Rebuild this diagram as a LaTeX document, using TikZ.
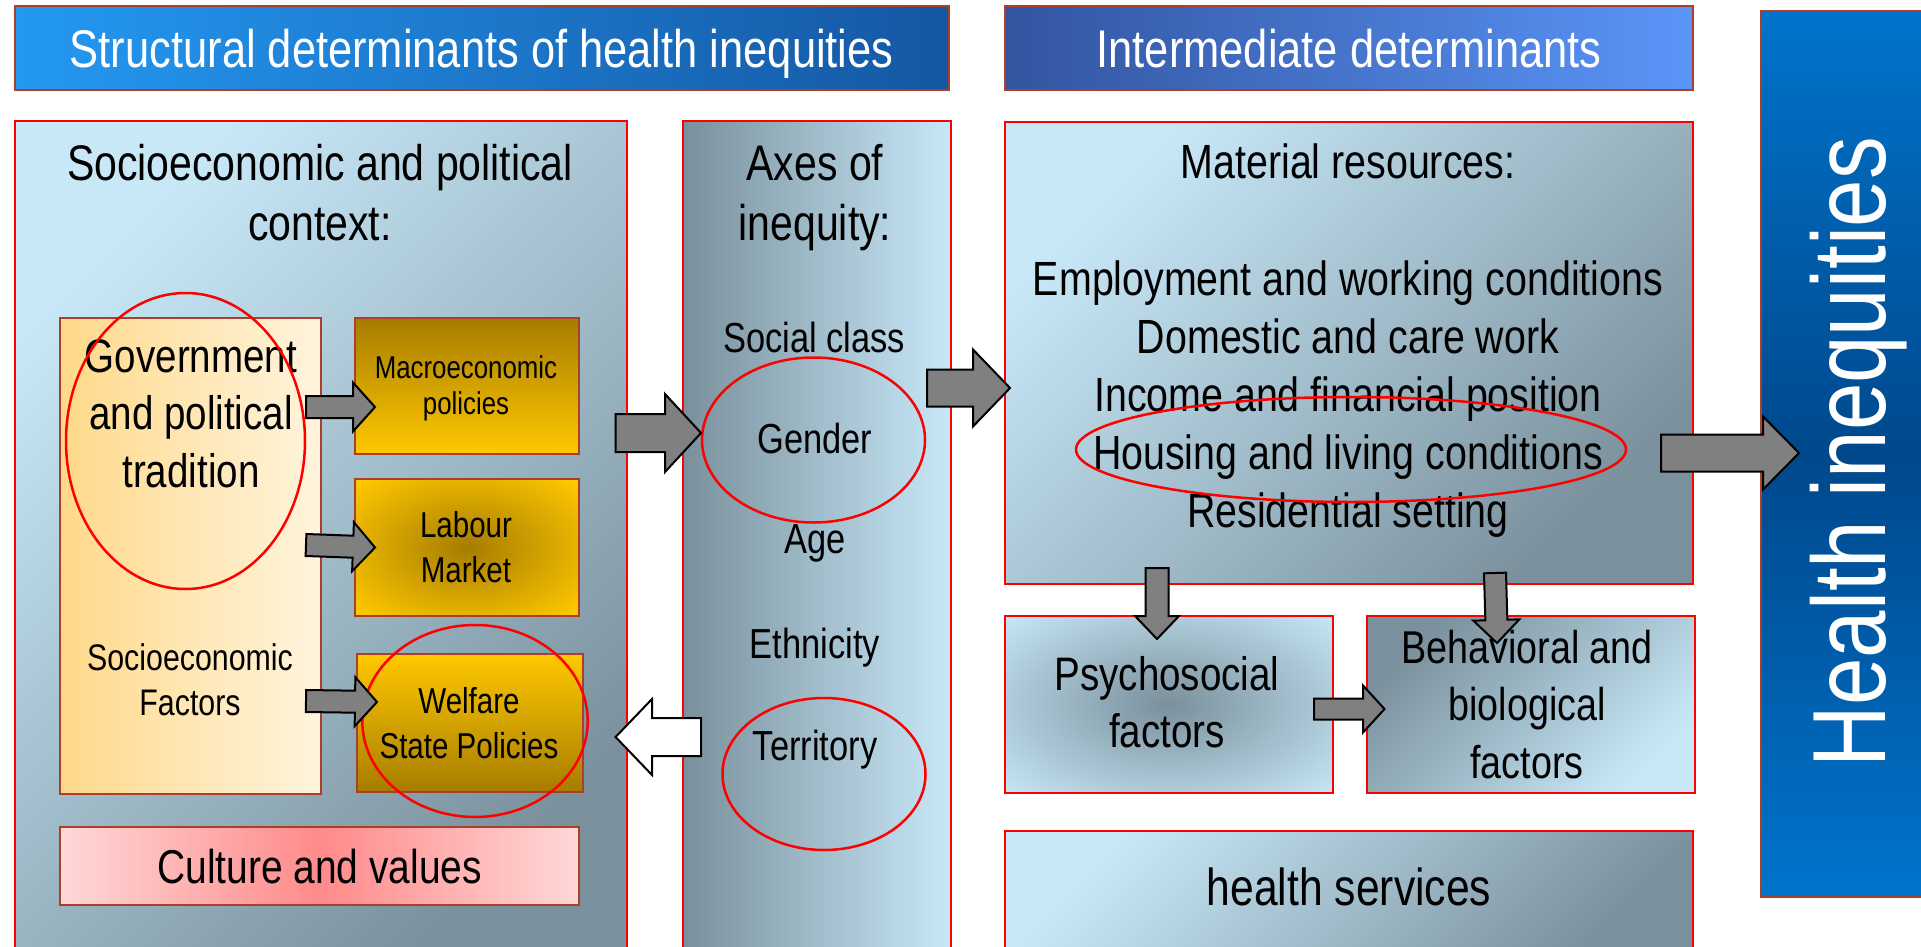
\documentclass[tikz,border=0pt]{standalone}
\usepackage{fontspec}
\setmainfont{Liberation Sans}[FakeStretch=0.82]
\definecolor{SkyLight}{HTML}{C8E8F8}
\definecolor{SlateDark}{HTML}{7A909C}
\definecolor{BoxRed}{HTML}{FF0000}
\definecolor{RimRed}{HTML}{A8402C}
\definecolor{GoldDark}{HTML}{A67C00}
\definecolor{GoldLight}{HTML}{FFC800}
\definecolor{CreamLeft}{HTML}{FFD98A}
\definecolor{CreamRight}{HTML}{FFF4DE}
\definecolor{RoseEdge}{HTML}{FFD8D8}
\definecolor{RoseMid}{HTML}{FF8A8A}
\definecolor{TitleLight}{HTML}{2499F2}
\definecolor{TitleDark}{HTML}{1557A3}
\definecolor{InterDark}{HTML}{3355A0}
\definecolor{InterLight}{HTML}{5A95F8}
\definecolor{HealthTop}{HTML}{0074CC}
\definecolor{HealthMid}{HTML}{00488C}
\definecolor{ArrowGray}{HTML}{808080}
\usepackage{tikz}
\usetikzlibrary{calc,positioning}

\pgfdeclareradialshading{softspot}{\pgfpoint{0bp}{0bp}}{color(0bp)=(SlateDark); color(36bp)=(SkyLight); color(50bp)=(SkyLight)}
\pgfdeclareradialshading{goldspot}{\pgfpoint{0bp}{0bp}}{color(0bp)=(GoldDark); color(34bp)=(GoldLight); color(50bp)=(GoldLight)}

% fat arrow: [options]{tail}{tip}{half shaft}{half head}{head length}
\newcommand{\blockarrow}[6][]{%
  \coordinate (bs) at (#2);
  \coordinate (be) at (#3);
  \coordinate (bh) at ($(be)!#6pt!(bs)$);
  \draw[blockarr,#1] ($(bs)!#4pt!90:(be)$) -- ($(bh)!#4pt!90:(be)$)
    -- ($(bh)!#5pt!90:(be)$) -- (be) -- ($(bh)!#5pt!-90:(be)$)
    -- ($(bh)!#4pt!-90:(be)$) -- ($(bs)!#4pt!-90:(be)$) -- cycle;}

\begin{document}
\begin{tikzpicture}[x=1pt,y=-1pt,
  box/.style={anchor=north west,inner sep=0pt,line width=2pt},
  bluebox/.style={box,draw=BoxRed},
  rimbox/.style={box,draw=RimRed},
  diag/.style 2 args={top color=#1,bottom color=#2,shading angle=45},
  txt/.style 2 args={anchor=base,align=center,inner sep=0pt,font=\fontsize{#1}{#2}\selectfont},
  ring/.style={draw=BoxRed,line width=2.5pt},
  blockarr/.style={draw=black,fill=ArrowGray,line width=2pt,line join=miter}]
  \useasboundingbox (0,0) rectangle (1921,947);
  \fill[white] (0,0) rectangle (1921,947);
  \clip (0,0) rectangle (1921,947);

  \node[rimbox,left color=TitleLight,right color=TitleDark,minimum width=934.5pt,minimum height=84pt,
    text=white,text depth=0pt,font=\fontsize{53}{60}\selectfont] (structural) at (13.5,5) {Structural determinants of health inequities};
  \node[rimbox,left color=InterDark,right color=InterLight,minimum width=688pt,minimum height=84pt,
    text=white,text depth=0pt,font=\fontsize{53}{60}\selectfont] (intermediate) at (1004,5) {Intermediate determinants};
  \node[rimbox,top color=HealthTop,bottom color=HealthTop,middle color=HealthMid,minimum width=180pt,minimum height=886pt] (outcome) at (1760,10) {};
  \node[txt={104}{110},rotate=90,text=white] (outcomelbl) at (1885,452) {Health inequities};

  \node[bluebox,diag={SkyLight}{SlateDark},minimum width=612.5pt,minimum height=850pt] (context) at (13.5,120) {};
  \node[bluebox,left color=SlateDark,right color=SkyLight,minimum width=268pt,minimum height=850pt,right=54pt of context] (axes) {};
  \node[rimbox,left color=CreamLeft,right color=CreamRight,minimum width=260.6pt,minimum height=476pt] (gov) at (59.4,317) {};
  \node[rimbox,top color=GoldDark,bottom color=GoldLight,minimum width=224pt,minimum height=136pt] (macro) at (354,317) {};
  \node[rimbox,shading=goldspot,minimum width=224pt,minimum height=137pt,below=23pt of macro] (labour) {};
  \node[rimbox,top color=GoldLight,bottom color=GoldDark,minimum width=226pt,minimum height=138pt] (welfare) at (356,653) {};
  \node[rimbox,left color=RoseEdge,right color=RoseEdge,middle color=RoseMid,minimum width=518.6pt,minimum height=78pt,
    text depth=0pt,font=\fontsize{47.5}{50}\selectfont] (culture) at (59.4,826) {Culture and values};

  \node[bluebox,diag={SkyLight}{SlateDark},minimum width=688pt,minimum height=462pt] (material) at (1004,121) {};
  \node[bluebox,shading=softspot,minimum width=328pt,minimum height=177pt,below=30pt of material.south west,anchor=north west] (psych) {};
  \node[bluebox,diag={SlateDark}{SkyLight},minimum width=328pt,minimum height=177pt,right=32pt of psych] (behav) {};
  \node[bluebox,diag={SkyLight}{SlateDark},minimum width=688pt,minimum height=140pt,below=36pt of psych.south west,anchor=north west] (services) {};

  % multi-line labels sit on the baseline of their last line
  \node[txt={50}{60}] (contextlbl) at (320,240) {Socioeconomic and political\\context:};
  \node[txt={50}{60}] (axeslbl) at (815,240) {Axes of\\inequity:};
  \node[txt={42}{50}] (classlbl) at (814,352) {Social class};
  \node[txt={42}{50}] (genderlbl) at (815,453) {Gender};
  \node[txt={42}{50}] (agelbl) at (815,553) {Age};
  \node[txt={42}{50}] (ethniclbl) at (815,658) {Ethnicity};
  \node[txt={42}{50}] (territorylbl) at (815,760) {Territory};
  \node[txt={47}{57.5}] (govlbl) at (191,487) {Government\\and political\\tradition};
  \node[txt={37}{45}] (factorslbl) at (190,715) {Socioeconomic\\Factors};
  \node[txt={31.5}{36}] (macrolbl) at (466,414) {Macroeconomic\\policies};
  \node[txt={36}{45}] (labourlbl) at (466,582) {Labour\\Market};
  \node[txt={36}{45}] (welfarelbl) at (469,758) {Welfare\\State Policies};
  \node[txt={48}{58}] (materiallbl) at (1348,178) {Material resources:};
  \node[txt={48}{58}] (resourceslbl) at (1348,527) {Employment and working conditions\\Domestic and care work\\Income and financial position\\Housing and living conditions\\Residential setting};
  \node[txt={47}{57}] (psychlbl) at (1167,747) {Psychosocial\\factors};
  \node[txt={46}{57.5}] (behavlbl) at (1527,778) {Behavioral and\\biological\\factors};
  \node[txt={52}{60}] (serviceslbl) at (1349,905) {health services};

  \draw[ring] (185.5,441) ellipse [x radius=119.5pt, y radius=148pt];
  \draw[ring] (813.5,440) ellipse [x radius=111.5pt, y radius=82.5pt];
  \draw[ring] (824,774) ellipse [x radius=101.5pt, y radius=76pt];
  \draw[ring] (475,721) ellipse [x radius=112.7pt, y radius=96pt];
  \draw[ring] (1351,449.5) ellipse [x radius=275pt, y radius=52.5pt];

  \blockarrow{$(gov.north east)+(-16,90)$}{$(macro.north west)+(21,90)$}{11}{24.5}{22}
  \blockarrow{$(gov.north east)+(-16,228)$}{$(labour.west)+(21,0)$}{11}{24.5}{22}
  \blockarrow{$(gov.north east)+(-16,384)$}{$(welfare.west)+(21,-21)$}{11}{24.5}{22}
  \blockarrow{$(context.north east)+(-12.4,313)$}{$(axes.north west)+(19,313)$}{19}{39}{36}
  \blockarrow[fill=white]{$(axes.north west)+(19,617)$}{$(context.north east)+(-12.4,617)$}{19}{38}{36.4}
  \blockarrow{$(axes.north east)+(-25,268)$}{$(material.north west)+(6,267)$}{18.5}{38.5}{37}
  \blockarrow{$(material.north east)+(-33,332)$}{$(outcome.north west)+(39,443)$}{18.5}{36.5}{36}
  \blockarrow{$(material.south west)+(153,-17)$}{$(psych.north west)+(153,24)$}{11.5}{22}{23}
  \blockarrow{$(material.south west)+(491,-12)$}{$(behav.north west)+(131,28)$}{11}{23}{23}
  \blockarrow{$(psych.east)+(-20,4.5)$}{$(behav.west)+(18.5,4.5)$}{10.5}{23.5}{21.5}
\end{tikzpicture}
\end{document}
